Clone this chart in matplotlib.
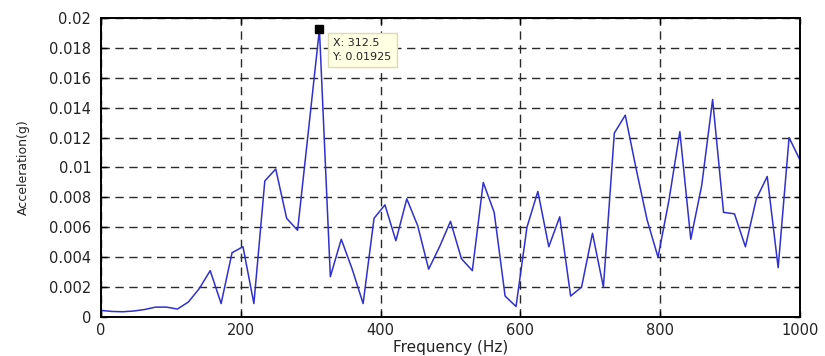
import numpy as np
import matplotlib
matplotlib.use("Agg")
import matplotlib.pyplot as plt
from matplotlib.ticker import FuncFormatter

# spectrum, 15.625 Hz bins from 0 to 1000 Hz
DF = 15.625
accel_g = [
    0.00044, 0.00037, 0.00035, 0.00040, 0.00050, 0.00066, 0.00066, 0.00053,
    0.0010, 0.0019, 0.0031, 0.0009, 0.0043, 0.0047, 0.0009, 0.0091,
    0.0099, 0.0066, 0.0058, 0.0125, 0.01925, 0.0027, 0.0052, 0.0032,
    0.0009, 0.0066, 0.0075, 0.0051, 0.0079, 0.0061, 0.0032, 0.0047,
    0.0064, 0.0039, 0.0031, 0.0090, 0.0070, 0.0014, 0.0007, 0.0060,
    0.0084, 0.0047, 0.0067, 0.0014, 0.0020, 0.0056, 0.0020, 0.0123,
    0.0135, 0.0099, 0.0065, 0.0040, 0.0078, 0.0124, 0.0052, 0.0088,
    0.01455, 0.0070, 0.0069, 0.0047, 0.0079, 0.0094, 0.0033, 0.0120,
    0.0105,
]
freq_hz = np.arange(len(accel_g)) * DF

x_ticks = [0, 200, 400, 600, 800, 1000]
y_ticks = [0, 0.002, 0.004, 0.006, 0.008, 0.01, 0.012, 0.014, 0.016, 0.018, 0.02]

tip_x, tip_y = 312.5, 0.01925

TXT = "#222222"

fig = plt.figure(figsize=(8.25, 3.56), dpi=100)
ax = fig.add_axes([0.1224, 0.1096, 0.8473, 0.8398])

ax.plot(freq_hz, accel_g, color="#3030cc", lw=1.1)

ax.set_xlim(0, 1000)
ax.set_ylim(0, 0.02)
ax.set_xticks(x_ticks)
ax.set_yticks(y_ticks)
ax.yaxis.set_major_formatter(FuncFormatter(lambda v, p: f"{v:g}"))

ax.grid(True, color="#2a2a2a", lw=1.0, linestyle=(0, (6, 4)))
ax.tick_params(direction="in", top=True, right=True, length=4, width=1.0,
               labelsize=10.5, labelcolor=TXT)
ax.tick_params(axis="y", pad=7)
ax.tick_params(axis="x", pad=4)
for s in ax.spines.values():
    s.set_linewidth(1.4)

ax.set_xlabel("Frequency (Hz)", fontsize=11, color=TXT, labelpad=2)
ax.set_ylabel("Acceleration(g)", fontsize=9, color=TXT, labelpad=14)

# data tip
ax.plot([tip_x], [tip_y], marker="s", color="black", ms=6, zorder=5,
        clip_on=False)
ax.annotate(f"X: {tip_x:g}\nY: {tip_y:g}", xy=(tip_x, tip_y),
            xytext=(14, -9), textcoords="offset pixels",
            ha="left", va="top", fontsize=8, color=TXT, linespacing=1.45,
            bbox=dict(boxstyle="square,pad=0.5", fc="#ffffe4",
                      ec="#dedbb0", lw=1.0), zorder=6)

fig.savefig("out.png", dpi=100)
